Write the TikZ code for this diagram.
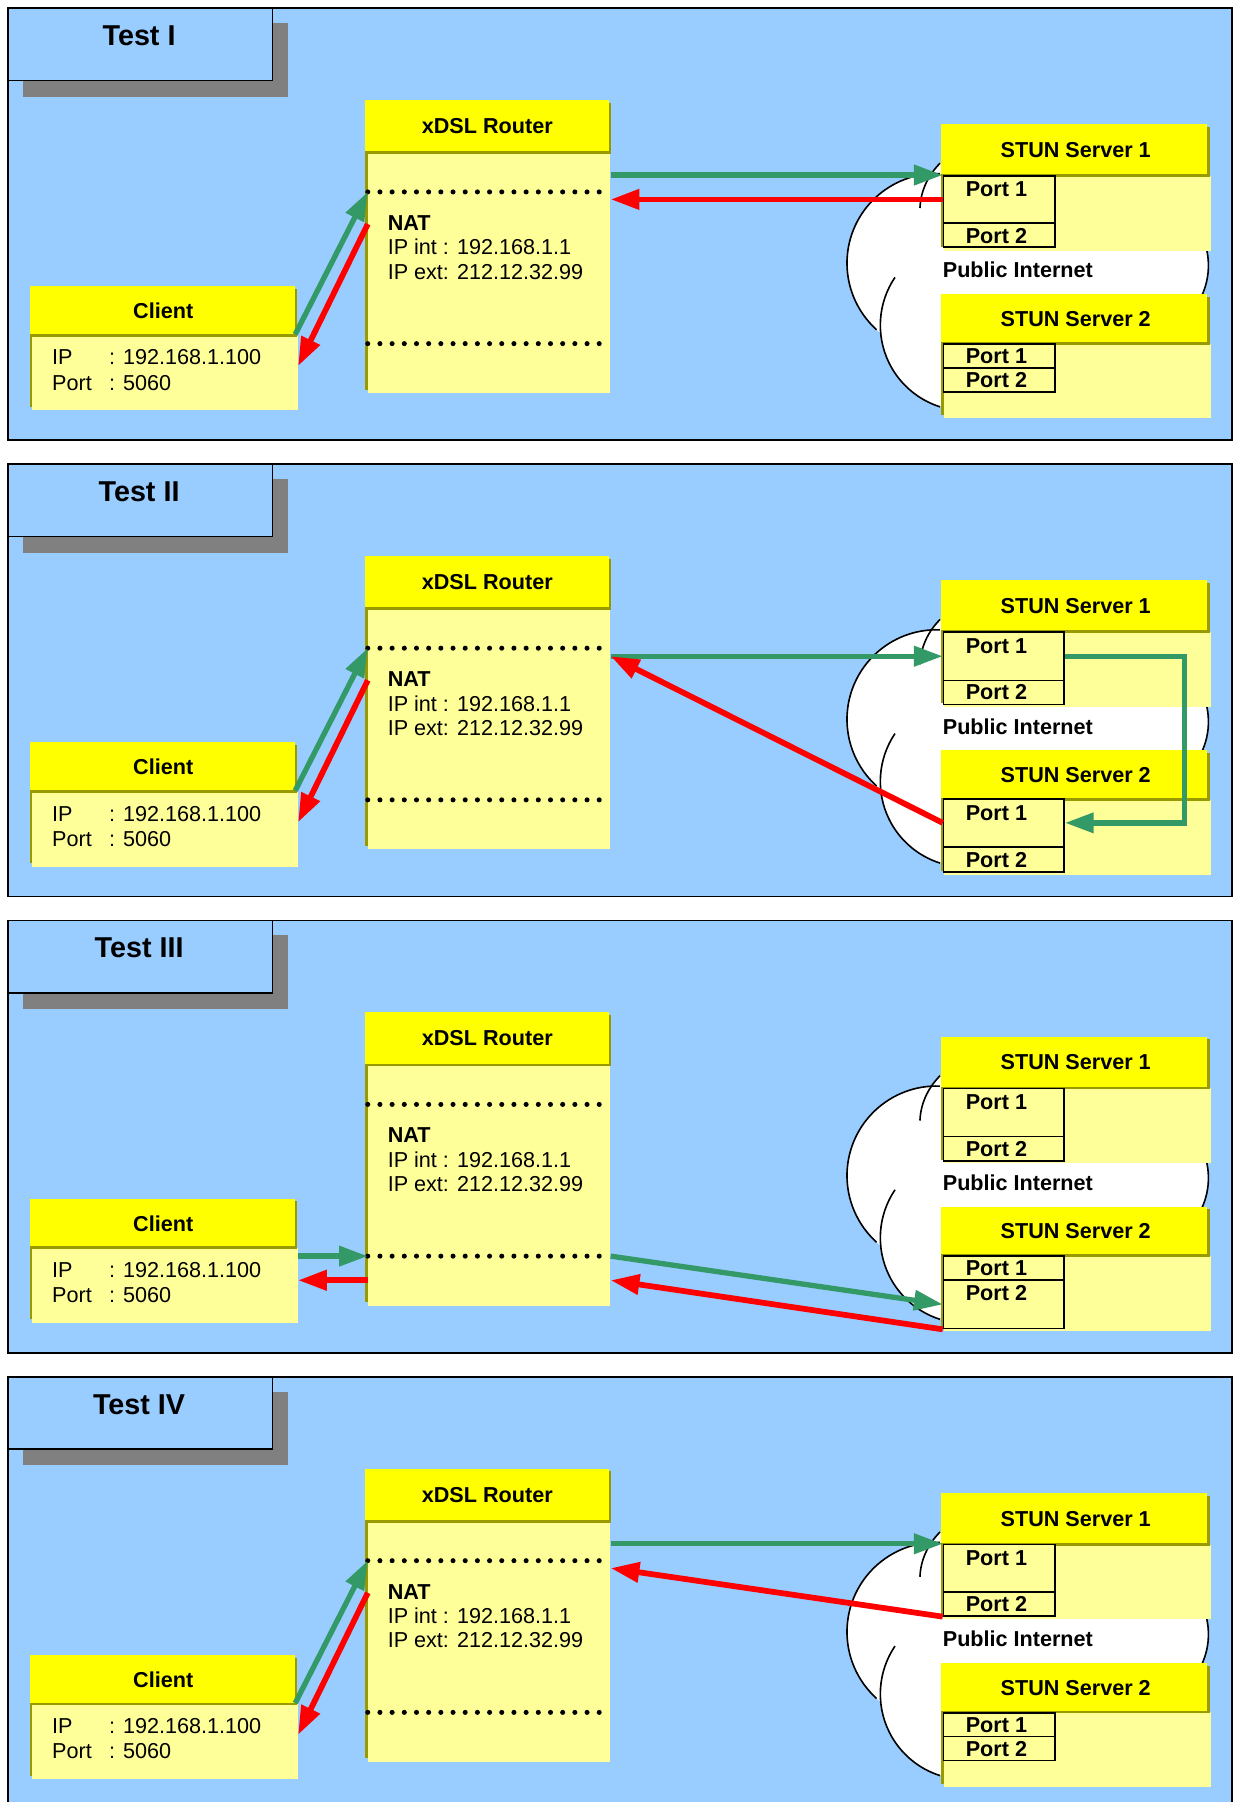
\documentclass[tikz,border=0pt]{standalone}
\usepackage{fontspec}
\setmainfont{Liberation Sans}
\usetikzlibrary{fit,shadows,arrows.meta,calc}

\definecolor{panelblue}{HTML}{99CCFF}
\definecolor{hdryellow}{HTML}{FFFF00}
\definecolor{softyellow}{HTML}{FFFF99}
\definecolor{olivedark}{HTML}{999900}
\definecolor{shadowgray}{HTML}{808080}
\definecolor{msggreen}{HTML}{339966}
\definecolor{msgred}{HTML}{FF0000}

\newcommand\txt{\fontsize{9.4pt}{11pt}\selectfont}
\newcommand\ttl{\fontsize{12.5pt}{14pt}\selectfont\bfseries}

\tikzset{
  panelbox/.style={fill=panelblue, draw=black, line width=0.75pt, inner sep=0pt},
  titlebox/.style={fill=panelblue, draw=black, line width=0.65pt, inner sep=0pt},
  titleshadow/.style={fill=shadowgray, draw=none, inner sep=0pt},
  headbox/.style={fill=hdryellow, inner sep=0pt,
    general shadow={fill=olivedark, opacity=1, shadow xshift=1.1pt, shadow yshift=-1.2pt}},
  bodybox/.style={fill=softyellow, inner sep=0pt,
    general shadow={fill=olivedark, opacity=1, shadow xshift=-1pt, shadow yshift=1.5pt}},
  portbox/.style={fill=softyellow, draw=black, line width=0.7pt, inner sep=0pt},
  headtext/.style={font=\txt\bfseries, inner sep=0pt},
  lbl/.style={font=\txt, inner sep=0pt, anchor=west},
  blbl/.style={font=\txt\bfseries, inner sep=0pt, anchor=west},
  cloudline/.style={draw=black, line width=0.7pt},
  gmsg/.style={draw=msggreen, line width=2.3pt, -{Triangle[length=12.5pt,width=8.5pt]}},
  rmsg/.style={draw=msgred, line width=2.5pt, -{Triangle[length=12.5pt,width=8.5pt]}},
}

% one test panel: frame, title, cloud, router, client and both STUN servers
\newcommand\stunpanel[3]{% #1 vertical offset, #2 id, #3 title
\begin{scope}[shift={(0,#1)}]
  \node[panelbox, fit={(7,7) (1072,383)}] (#2-frame) {};
  \node[titleshadow, fit={(20,20) (251,84)}] (#2-tshadow) {};
  \node[titlebox, fit={(7,7) (237,70)}] (#2-tbox) {};
  \node[font=\ttl, inner sep=0pt] (#2-title) at (121,31) {#3};
  % internet cloud: each lobe filled on its own
  \fill[white] (815,229) circle[radius=78];
  \fill[white] (840.5,283) circle[radius=74.5];
  \fill[white] (989,231) circle[radius=62.5];
  \fill[white] (821,150) rectangle (1000,360);
  \fill[white] (818,142) .. controls (807,153) and (801,167) .. (800.5,181)
               -- (830,181) -- (830,142) -- cycle;
  \draw[cloudline] (815,229) ++(-88:78) arc[start angle=-88, end angle=-228, radius=78];
  \draw[cloudline] (840.5,283) ++(214:74.5) arc[start angle=214, end angle=107.6, radius=74.5];
  \draw[cloudline] (989,231) ++(-25:62.5) arc[start angle=-25, end angle=30, radius=62.5];
  \draw[cloudline] (818,142) .. controls (807,153) and (801,167) .. (800.5,181);
  % router
  \node[bodybox, fit={(320,132) (531,342)}] (#2-rbody) {};
  \node[headbox, fit={(318,87) (529.5,131.5)}] (#2-rhead) {};
  \node[headtext] (#2-rname) at (424,109.5) {xDSL Router};
  \foreach \i in {0,...,19} {
    \fill ({320+\i*10.6},167) circle[radius=2.2];
    \fill ({320+\i*10.6},299) circle[radius=2.2];
  }
  \coordinate (#2-natup) at (320,167);
  \coordinate (#2-natlow) at (320,299);
  \node[blbl] (#2-nat) at (337,194) {NAT};
  \node[lbl] (#2-ipint) at (337,215) {IP int : 192.168.1.1};
  \node[lbl] (#2-ipext) at (337,236.5) {IP ext: 212.12.32.99};
  % client
  \node[bodybox, fit={(28,292) (259,357)}] (#2-cbody) {};
  \node[headbox, fit={(26,249) (256.5,290.5)}] (#2-chead) {};
  \node[headtext] (#2-cname) at (142,270.5) {Client};
  \node[lbl] (#2-cip) at (45,311) {IP};
  \node[lbl] (#2-cipv) at (94.5,311) {: 192.168.1.100};
  \node[lbl] (#2-cport) at (45,333) {Port};
  \node[lbl] (#2-cportv) at (94.5,333) {: 5060};
  % STUN servers
  \node[bodybox, fit={(821,153) (1054,218)}] (#2-s1body) {};
  \node[headbox, fit={(819,108) (1050.5,151.5)}] (#2-s1head) {};
  \node[headtext] (#2-s1name) at (936,130.5) {STUN Server 1};
  \node[bodybox, fit={(821,299) (1054,364)}] (#2-s2body) {};
  \node[headbox, fit={(819,256) (1050.5,297.5)}] (#2-s2head) {};
  \node[headtext] (#2-s2name) at (936,277.5) {STUN Server 2};
  \node[blbl] (#2-net) at (820,235) {Public Internet};
\end{scope}}

% a port cell of a STUN server
\newcommand\portcell[6]{% #1 name, #2 right x, #3 top y, #4 bottom y, #5 label y, #6 label
  \node[portbox, fit={(821,#3) (#2,#4)}] (#1) {};
  \node[blbl] (#1-t) at (840,#5) {#6};}

\begin{document}
\begin{tikzpicture}[x=0.5pt, y=-0.5pt]
\fill[white] (0,0) rectangle (1073,1568);
\useasboundingbox (0,0) rectangle (1073,1568);

% ---------- Test I ----------
\stunpanel{0}{a}{Test I}
\begin{scope}
  \portcell{a-s1p1}{918}{153}{194}{165}{Port 1}
  \portcell{a-s1p2}{918}{194}{215}{205}{Port 2}
  \portcell{a-s2p1}{918}{299.5}{320}{310}{Port 1}
  \portcell{a-s2p2}{918}{320}{341}{331}{Port 2}
\end{scope}
\draw[gmsg] (a-chead.south east) -- (a-natup);
\draw[rmsg] ($(a-natup)+(0,28)$) -- ($(a-cbody.east)+(0,-6)$);
\draw[gmsg] (a-rbody.east |- a-s1p1.north west) -- (a-s1p1.north west);
\draw[rmsg] (a-s1p1.west) -- (a-rbody.east |- a-s1p1.west);

% ---------- Test II ----------
\stunpanel{397}{b}{Test II}
\begin{scope}[shift={(0,397)}]
  \portcell{b-s1p1}{926}{153}{195}{165}{Port 1}
  \portcell{b-s1p2}{926}{195}{216}{205.5}{Port 2}
  \portcell{b-s2p1}{926}{298}{340}{311}{Port 1}
  \portcell{b-s2p2}{926}{340}{362}{351.5}{Port 2}
\end{scope}
\draw[gmsg] (b-chead.south east) -- (b-natup);
\draw[rmsg] ($(b-natup)+(0,28)$) -- ($(b-cbody.east)+(0,-6)$);
\draw[gmsg] (b-rbody.east |- b-s1p1.west) -- (b-s1p1.west);
\draw[rmsg] (b-s2p1.west) -- (b-rbody.east |- b-s1p1.west);
\draw[gmsg] (b-s1p1.east) -- ++(104,0) |- (b-s2p1.east);

% ---------- Test III ----------
\stunpanel{794}{c}{Test III}
\begin{scope}[shift={(0,794)}]
  \portcell{c-s1p1}{926}{153}{195}{165}{Port 1}
  \portcell{c-s1p2}{926}{195}{216}{205.5}{Port 2}
  \portcell{c-s2p1}{926}{299}{320}{309.5}{Port 1}
  \portcell{c-s2p2}{926}{320}{362}{331}{Port 2}
\end{scope}
\draw[gmsg] (c-cbody.east |- c-natlow) -- (c-natlow);
\draw[rmsg] ($(c-natlow)+(0,21)$) -- ($(c-cbody.east |- c-natlow)+(0,21)$);
\draw[gmsg] (c-rbody.east |- c-natlow) -- (c-s2p2.west);
\draw[rmsg] (c-s2p2.south west) -- ($(c-rbody.east |- c-natlow)+(0,21)$);

% ---------- Test IV ----------
\stunpanel{1191}{d}{Test IV}
\begin{scope}[shift={(0,1191)}]
  \portcell{d-s1p1}{918}{153}{194}{165}{Port 1}
  \portcell{d-s1p2}{918}{194}{215}{205}{Port 2}
  \portcell{d-s2p1}{918}{299.5}{320}{310}{Port 1}
  \portcell{d-s2p2}{918}{320}{341}{331}{Port 2}
\end{scope}
\draw[gmsg] (d-chead.south east) -- (d-natup);
\draw[rmsg] ($(d-natup)+(0,28)$) -- ($(d-cbody.east)+(0,-6)$);
\draw[gmsg] (d-rbody.east |- d-s1p1.north west) -- (d-s1p1.north west);
\draw[rmsg] (d-s1p2.south west) -- (d-rbody.east |- d-s1p1.west);
\end{tikzpicture}
\end{document}
